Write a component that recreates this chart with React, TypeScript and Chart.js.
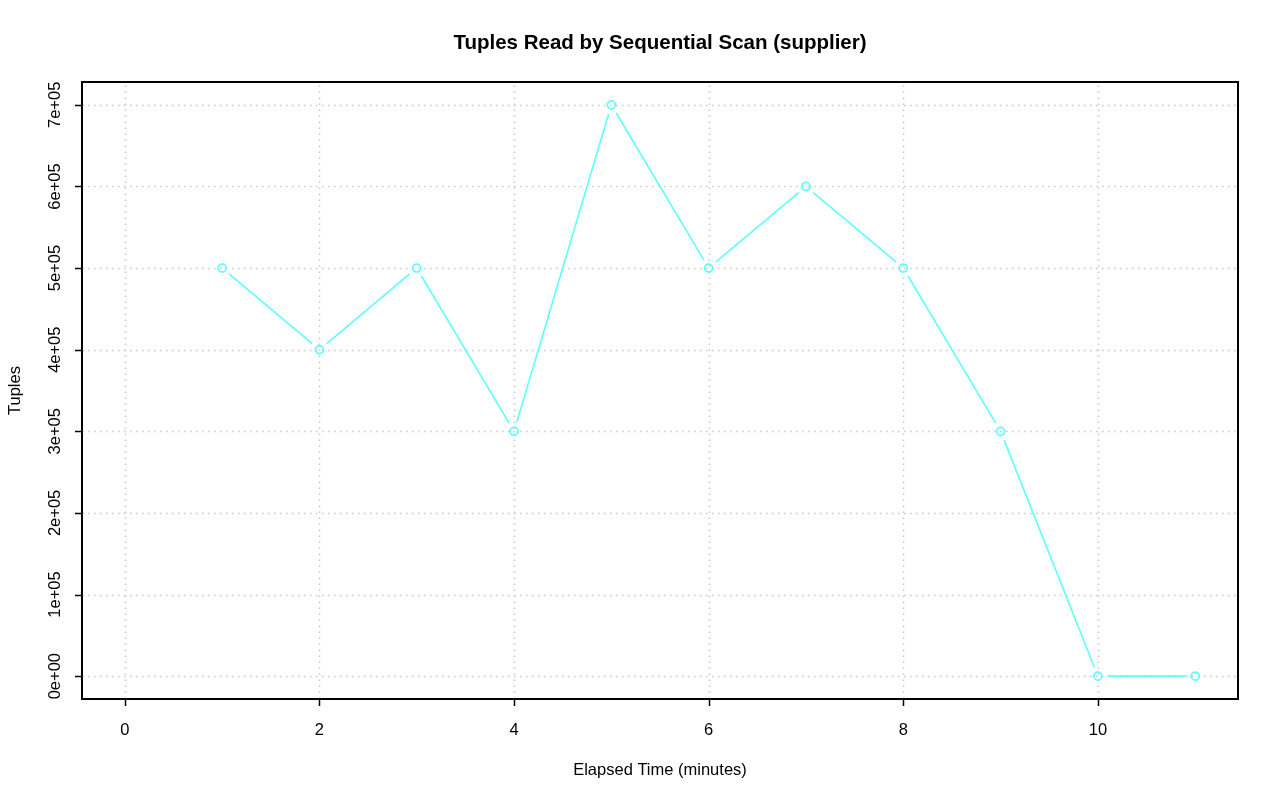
import React, { useEffect, useRef } from "react";
import { Chart, registerables } from "chart.js";

Chart.register(...registerables);

// ---- data ----
const elapsedMinutes = [1, 2, 3, 4, 5, 6, 7, 8, 9, 10, 11];
const tuplesRead = [500000, 400000, 500000, 300000, 700000, 500000, 600000, 500000, 300000, 0, 0];
const xTickValues = [0, 2, 4, 6, 8, 10];
const yTickValues = [0, 100000, 200000, 300000, 400000, 500000, 600000, 700000];
const yTickLabels = ["0e+00", "1e+05", "2e+05", "3e+05", "4e+05", "5e+05", "6e+05", "7e+05"];
const xRange = [-0.44, 11.44];
const yRange = [-28000, 728000];

const chartTitle = "Tuples Read by Sequential Scan (supplier)";
const xTitle = "Elapsed Time (minutes)";
const yTitle = "Tuples";

const FONT = "'Liberation Sans', Arial, Helvetica, sans-serif";
const LINE_COLOR = "#5cffff";

const rFramePlugin = {
  id: "rFrame",
  beforeDatasetsDraw(chart: any) {
    const { ctx, chartArea: a, scales } = chart;
    const x = scales.x;
    const y = scales.y;
    ctx.save();
    // dotted grid (R lty="dotted", lightgray)
    ctx.strokeStyle = "#c8c8c8";
    ctx.lineWidth = 1.5;
    ctx.setLineDash([1.5, 4.5]);
    xTickValues.forEach((v) => {
      const px = Math.round(x.getPixelForValue(v)) + 0.5;
      ctx.beginPath();
      ctx.moveTo(px, a.bottom);
      ctx.lineTo(px, a.top);
      ctx.stroke();
    });
    yTickValues.forEach((v) => {
      const py = Math.round(y.getPixelForValue(v)) + 0.5;
      ctx.beginPath();
      ctx.moveTo(a.left, py);
      ctx.lineTo(a.right, py);
      ctx.stroke();
    });
    ctx.setLineDash([]);
    // gapped line segments (type "b")
    const meta = chart.getDatasetMeta(0);
    const pts = meta.data;
    const gap = 9.5;
    ctx.strokeStyle = LINE_COLOR;
    ctx.lineWidth = 1.6;
    for (let i = 0; i < pts.length - 1; i++) {
      const p0 = pts[i];
      const p1 = pts[i + 1];
      const dx = p1.x - p0.x;
      const dy = p1.y - p0.y;
      const d = Math.hypot(dx, dy);
      if (d <= 2 * gap) continue;
      const ux = dx / d;
      const uy = dy / d;
      ctx.beginPath();
      ctx.moveTo(p0.x + ux * gap, p0.y + uy * gap);
      ctx.lineTo(p1.x - ux * gap, p1.y - uy * gap);
      ctx.stroke();
    }
    ctx.restore();
  },
  afterDraw(chart: any) {
    const { ctx, chartArea: a, scales } = chart;
    const x = scales.x;
    const y = scales.y;
    ctx.save();
    ctx.strokeStyle = "#000";
    ctx.lineWidth = 2;
    ctx.strokeRect(a.left, a.top, a.right - a.left, a.bottom - a.top);
    ctx.lineWidth = 1.5;
    xTickValues.forEach((v) => {
      const px = Math.round(x.getPixelForValue(v)) + 0.5;
      ctx.beginPath();
      ctx.moveTo(px, a.bottom);
      ctx.lineTo(px, a.bottom + 7);
      ctx.stroke();
    });
    yTickValues.forEach((v) => {
      const py = Math.round(y.getPixelForValue(v)) + 0.5;
      ctx.beginPath();
      ctx.moveTo(a.left, py);
      ctx.lineTo(a.left - 7, py);
      ctx.stroke();
    });
    ctx.restore();
  },
};

export default function App() {
  const canvasRef = useRef<HTMLCanvasElement | null>(null);

  useEffect(() => {
    document.body.style.margin = "0";
    const canvas = canvasRef.current;
    if (!canvas) return;
    const chart = new Chart(canvas, {
      type: "line",
      data: {
        datasets: [
          {
            label: yTitle,
            data: elapsedMinutes.map((m, i) => ({ x: m, y: tuplesRead[i] })),
            showLine: false,
            borderColor: LINE_COLOR,
            backgroundColor: "rgba(0,0,0,0)",
            pointRadius: 4,
            pointBorderWidth: 1.7,
            pointBorderColor: LINE_COLOR,
            pointBackgroundColor: "rgba(0,0,0,0)",
            pointStyle: "circle",
          },
        ],
      },
      options: {
        responsive: false,
        animation: false,
        events: [],
        layout: { padding: { left: 0, top: 0, bottom: 0, right: 42 } },
        plugins: {
          legend: { display: false },
          tooltip: { enabled: false },
          title: {
            display: true,
            fullSize: false,
            text: chartTitle,
            color: "#000",
            font: { family: FONT, size: 20.5, weight: "bold", lineHeight: 1.2 },
            padding: { top: 31, bottom: 26.4 },
          },
        },
        scales: {
          x: {
            type: "linear",
            min: xRange[0],
            max: xRange[1],
            afterBuildTicks: (scale: any) => {
              scale.ticks = xTickValues.map((v) => ({ value: v }));
            },
            afterFit: (scale: any) => {
              scale.height = 102;
            },
            grid: { display: false, drawTicks: false },
            border: { display: false },
            ticks: {
              color: "#000",
              font: { family: FONT, size: 16.5 },
              padding: 22,
              maxRotation: 0,
              minRotation: 0,
              autoSkip: false,
              callback: (v: any) => String(v),
            },
            title: {
              display: true,
              text: xTitle,
              color: "#000",
              font: { family: FONT, size: 16.5, lineHeight: 1.2 },
              padding: { top: 0, bottom: 21 },
            },
          },
          y: {
            type: "linear",
            min: yRange[0],
            max: yRange[1],
            afterBuildTicks: (scale: any) => {
              scale.ticks = yTickValues.map((v) => ({ value: v }));
            },
            afterFit: (scale: any) => {
              scale.width = 82;
            },
            grid: { display: false, drawTicks: false },
            border: { display: false },
            ticks: {
              color: "#000",
              font: { family: FONT, size: 16.5 },
              padding: 3,
              minRotation: 90,
              maxRotation: 90,
              crossAlign: "center",
              autoSkip: false,
              callback: (v: any) => {
                const idx = yTickValues.indexOf(Number(v));
                return idx >= 0 ? yTickLabels[idx] : "";
              },
            },
            title: {
              display: true,
              text: yTitle,
              color: "#000",
              font: { family: FONT, size: 16.5, lineHeight: 1.2 },
              padding: { top: 6, bottom: 0 },
            },
          },
        },
      },
      plugins: [rFramePlugin],
    } as any);
    return () => chart.destroy();
  }, []);

  return (
    <div style={{ position: "absolute", left: 0, top: 0, width: 1280, height: 801, background: "#fff" }}>
      <canvas ref={canvasRef} width={1280} height={801} style={{ display: "block" }} />
    </div>
  );
}
